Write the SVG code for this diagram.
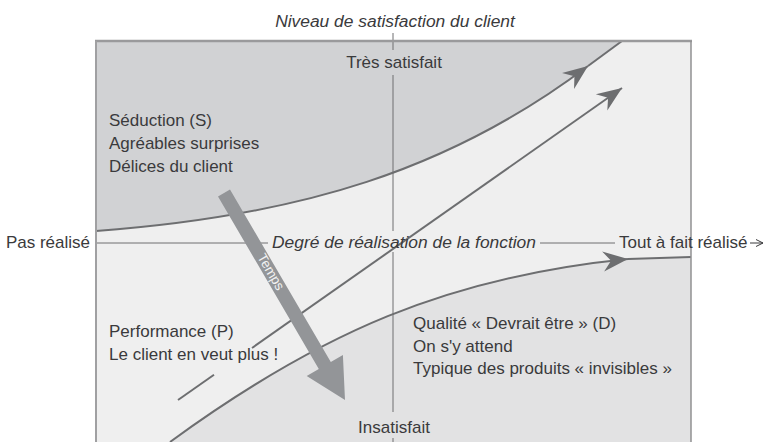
<svg xmlns="http://www.w3.org/2000/svg" width="764" height="442" viewBox="0 0 764 442">
<style>
.t{font-family:"Liberation Sans",Arial,sans-serif;font-size:17px;fill:#3a3a3c}
.i{font-family:"Liberation Sans",Arial,sans-serif;font-size:17.4px;font-style:italic;fill:#3a3a3c}
.ax{stroke:#6f6f71;stroke-width:1;fill:none}
.cv{stroke:#6d6e70;stroke-width:2;fill:none}
</style>
<defs>
<marker id="ah" markerUnits="userSpaceOnUse" viewBox="-26 -12 28 24" markerWidth="28" markerHeight="24" refX="0" refY="0" orient="auto">
<path d="M0,0 L-25,-10 L-17,0 L-25,10 Z" fill="#6d6e70"/>
</marker>
<marker id="sm" markerUnits="userSpaceOnUse" viewBox="-8 -5 9 10" markerWidth="9" markerHeight="10" refX="0" refY="0" orient="auto">
<path d="M0,0 L-7,-3.5 M0,0 L-7,3.5" stroke="#3a3a3c" stroke-width="1" fill="none"/>
</marker>
</defs>
<rect width="764" height="442" fill="#ffffff"/>
<g id="regions">
<rect x="96" y="41" width="595" height="401" fill="#efefef"/>
<path id="seduction-zone" d="M96,41 L622,41 L588,66 C450,170 300,216 96,231 Z" fill="#d1d2d4"/>
<path id="devrait-zone" d="M170,442 C320,332.5 448,277 628,259 L691,257 L691,442 Z" fill="#e2e2e3"/>
</g>
<g id="axes">
<line class="ax" x1="393" y1="33" x2="393" y2="50"/>
<line class="ax" x1="393" y1="75" x2="393" y2="231"/>
<line class="ax" x1="393" y1="252" x2="393" y2="412"/>
<line class="ax" x1="393" y1="438" x2="393" y2="442"/>
<line class="ax" x1="96" y1="243" x2="268" y2="243"/>
<line class="ax" x1="540" y1="243" x2="615" y2="243"/>
<line x1="750" y1="243" x2="763" y2="243" stroke="#3a3a3c" stroke-width="1" marker-end="url(#sm)"/>
</g>
<g id="connectors">
<path class="cv" d="M96,231 C300,216 450,170 588,66" marker-end="url(#ah)"/>
<line class="cv" x1="588" y1="66" x2="622" y2="41" stroke-width="1.5"/>
<line class="cv" x1="178" y1="400" x2="214" y2="374.7" stroke-width="1.8"/>
<line class="cv" x1="252" y1="348" x2="622" y2="88" stroke-width="1.8" marker-end="url(#ah)"/>
<path class="cv" d="M170,442 C320,332.5 448,277 628,259" marker-end="url(#ah)"/>
<line class="cv" x1="628" y1="259" x2="691" y2="257" stroke-width="1.5"/>
</g>
<g id="temps">
<polygon points="230,189.5 330.8,362 342.9,354.9 345,400 306.7,376.1 318.8,369 218,196.5" fill="#939598"/>
<text x="271" y="276.5" text-anchor="middle" style="font-family:'Liberation Sans',Arial,sans-serif;font-size:13.5px;fill:#f2f2f2" transform="rotate(59.7 271 272)">Temps</text>
</g>
<g id="frame">
<line x1="95" y1="41" x2="692" y2="41" stroke="#9a9a9c" stroke-width="2.5"/>
<line x1="96" y1="41" x2="96" y2="442" stroke="#a0a0a2" stroke-width="2"/>
<line x1="691" y1="41" x2="691" y2="442" stroke="#909092" stroke-width="1.5"/>
</g>
<g id="labels">
<text class="i" x="395" y="27" text-anchor="middle">Niveau de satisfaction du client</text>
<text class="t" x="394" y="68" text-anchor="middle">Très satisfait</text>
<text class="t" x="394" y="433" text-anchor="middle">Insatisfait</text>
<text class="t" x="90" y="248" text-anchor="end">Pas réalisé</text>
<text class="i" x="404" y="248" text-anchor="middle">Degré de réalisation de la fonction</text>
<text class="t" x="619" y="248">Tout à fait réalisé</text>
</g>
<g id="seduction">
<text class="t" x="109" y="126">Séduction (S)</text>
<text class="t" x="109" y="149">Agréables surprises</text>
<text class="t" x="109" y="172">Délices du client</text>
</g>
<g id="performance">
<text class="t" x="109" y="337">Performance (P)</text>
<text class="t" x="109" y="360">Le client en veut plus !</text>
</g>
<g id="devrait-etre">
<text class="t" x="413" y="329">Qualité « Devrait être » (D)</text>
<text class="t" x="413" y="352">On s'y attend</text>
<text class="t" x="413" y="374">Typique des produits « invisibles »</text>
</g>
</svg>
